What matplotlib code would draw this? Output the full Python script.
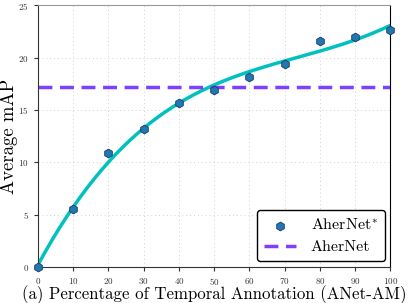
import numpy as np
import matplotlib
matplotlib.use("Agg")
import matplotlib.pyplot as plt

plt.rcParams['font.family'] = ['cmr10', 'DejaVu Serif']
plt.rcParams['mathtext.fontset'] = 'cm'
plt.rcParams['axes.formatter.use_mathtext'] = True

# percentage of temporal annotation vs average mAP
pct = [0, 10, 20, 30, 40, 50, 60, 70, 80, 90, 100]
map_star = [0.0, 5.5, 10.9, 13.2, 15.7, 16.9, 18.1, 19.4, 21.6, 22.0, 22.6]
baseline = 17.2

fig = plt.figure(figsize=(4.08, 3.03), dpi=100)
ax = fig.add_axes([0.093, 0.119, 0.864, 0.864])

# smooth trend curve fitted to the points
coef = np.polyfit(pct, map_star, 3)
xs = np.linspace(0, 100, 200)
ax.plot(xs, np.polyval(coef, xs), color='#00c0c0', lw=2.5, zorder=2)

ax.scatter(pct, map_star, marker='h', s=40, color='#1f77b4',
           edgecolors='#1a3a5a', linewidths=0.6, zorder=3, clip_on=False,
           label=r'AherNet$^{*}$')
ax.axhline(baseline, color='#7f3fff', lw=2.5, ls=(0, (4, 2.2)), zorder=2,
           label='AherNet')

ax.set_xlim(0, 100)
ax.set_ylim(0, 25)
ax.set_xticks(range(0, 101, 10))
ax.set_yticks(range(0, 26, 5))
ax.tick_params(labelsize=6.5, colors='#333333', length=3, width=0.8)
ax.grid(True, ls=(0, (1, 3)), color='#d0d0d0', lw=0.7)
ax.set_axisbelow(True)

ax.spines['top'].set_color('#999999')
ax.spines['right'].set_color('black')
ax.spines['left'].set_color('#333333')
ax.spines['bottom'].set_color('#333333')

ax.set_xlabel('(a) Percentage of Temporal Annotation (ANet-AM)', fontsize=12.1)
ax.set_ylabel('Average mAP', fontsize=13.5)
ax.xaxis.set_label_coords(0.5, -0.072)
ax.yaxis.set_label_coords(-0.057, 0.5)

leg = ax.legend(loc='lower right', fontsize=11.5, frameon=True, fancybox=True,
                edgecolor='black', framealpha=1, handlelength=2.0,
                handletextpad=0.9, borderpad=0.45, labelspacing=0.45,
                borderaxespad=0.35)
leg.get_frame().set_linewidth(1.0)

fig.savefig('out.png', dpi=100)
